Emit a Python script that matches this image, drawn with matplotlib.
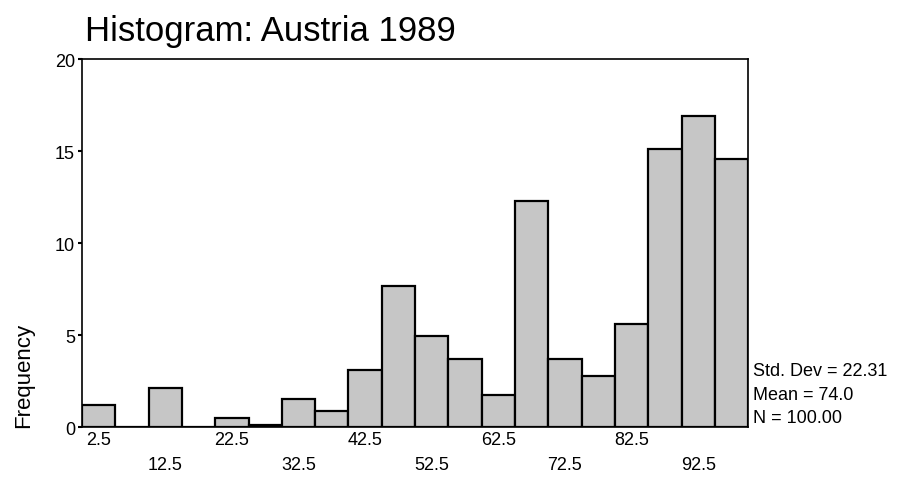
"""Histogram of Austria 1989 scores, SPSS-style."""

import matplotlib

matplotlib.use("Agg")
import matplotlib.pyplot as plt
import numpy as np

bin_edges = np.arange(0, 105, 5)
frequencies = [1.2, 0.0, 2.1, 0.0, 0.5, 0.1, 1.5, 0.85, 3.1, 7.65,
               4.95, 3.7, 1.75, 12.3, 3.7, 2.75, 5.6, 15.1, 16.9, 14.55]
tick_values = [2.5, 12.5, 22.5, 32.5, 42.5, 52.5, 62.5, 72.5, 82.5, 92.5]
stats_lines = ["Std. Dev = 22.31", "Mean = 74.0", "N = 100.00"]

plt.rcParams["font.family"] = ["Liberation Sans", "DejaVu Sans"]

fig = plt.figure(figsize=(8.99, 4.85), dpi=100)
ax = fig.add_axes([0.0912, 0.1175, 0.741, 0.7585])

ax.bar(bin_edges[:-1], frequencies, width=5, align="edge",
       color="#c6c6c6", edgecolor="black", linewidth=1.6)

ax.set_xlim(0, 100)
ax.set_ylim(0, 20)
ax.set_yticks([0, 5, 10, 15, 20])
ax.tick_params(axis="y", length=3, width=1.5, pad=2, labelsize=13)

# alternate labels drop to a second row, like the SPSS output
labels = [f"{v:g}" if i % 2 == 0 else f"\n{v:g}" for i, v in enumerate(tick_values)]
ax.set_xticks(tick_values)
ax.set_xticklabels(labels, linespacing=1.6)
ax.tick_params(axis="x", length=0, pad=3, labelsize=13)

for spine in ax.spines.values():
    spine.set_linewidth(1.2)

fig.text(0.095, 0.915, "Histogram: Austria 1989", fontsize=25, ha="left", va="baseline")
fig.text(0.026, 0.225, "Frequency", fontsize=16, rotation=90, ha="center", va="center")

for i, line in enumerate(stats_lines):
    fig.text(0.838, 0.233 - i * 0.048, line, fontsize=13, ha="left", va="center")

fig.savefig("out.png", dpi=100)
